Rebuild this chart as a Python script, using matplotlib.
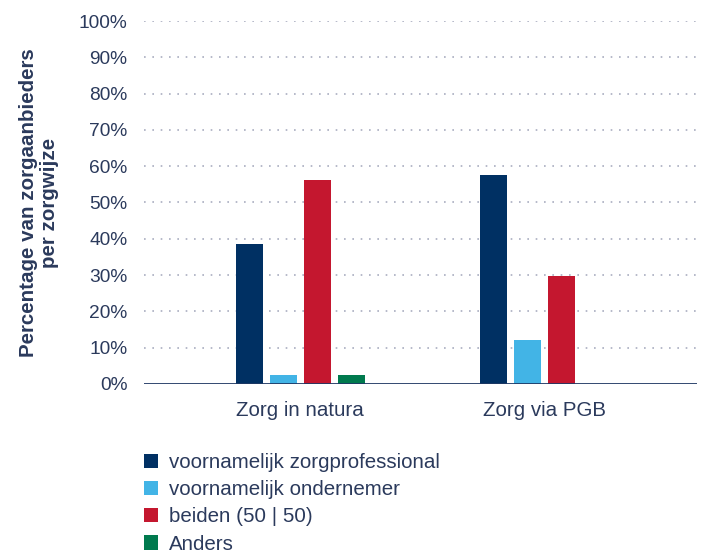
import matplotlib
matplotlib.use("Agg")
import matplotlib.pyplot as plt
import numpy as np

plt.rcParams['font.family'] = ['Liberation Sans', 'DejaVu Sans']

categories = ['Zorg in natura', 'Zorg via PGB']
series = ['voornamelijk zorgprofessional', 'voornamelijk ondernemer',
          'beiden (50 | 50)', 'Anders']
values = [
    [38.6, 57.6],   # voornamelijk zorgprofessional
    [2.6, 12.2],    # voornamelijk ondernemer
    [56.2, 29.8],   # beiden
    [2.6, 0.0],     # Anders
]
colors = ['#003063', '#42b4e6', '#c4172f', '#007a4e']
yticks = np.arange(0, 101, 10)
txt = '#2b3a5c'

fig = plt.figure(figsize=(7.07, 5.56), dpi=100)
ax = fig.add_axes([0.2037, 0.3094, 0.7823, 0.6528])

x = np.arange(len(categories))
w = 0.111
step = 0.139
handles = []
for i, (name, vals) in enumerate(zip(series, values)):
    off = (i - 1.5) * step
    b = ax.bar(x + off, vals, w, color=colors[i], label=name, zorder=3)
    handles.append(b)

ax.set_xlim(-0.64, 1.625)
ax.set_ylim(0, 100)
ax.set_yticks(yticks)
ax.set_yticklabels([f'{v}%' for v in yticks], color=txt, fontsize=13.8)
ax.set_xticks(x)
ax.set_xticklabels(categories, color=txt, fontsize=14.8)
ax.tick_params(axis='y', length=0, pad=12)
ax.tick_params(axis='x', length=0, pad=12)

for v in yticks[1:]:
    ax.axhline(v, color='#a9adc0', lw=1.2, ls=(0, (1, 4)), zorder=1)
ax.axhline(0, color='#1f3864', lw=2, zorder=4)

for s in ['top', 'right', 'left', 'bottom']:
    ax.spines[s].set_visible(False)

ax.set_ylabel('Percentage van zorgaanbieders\nper zorgwijze', fontsize=14.8,
              fontweight='bold', color=txt, labelpad=14, linespacing=1.15)

leg = fig.legend(handles=handles, labels=series, loc='upper left',
                 bbox_to_anchor=(0.192, 0.2), frameon=False,
                 fontsize=14.8, handlelength=0.68, handleheight=0.68,
                 handletextpad=0.55, labelspacing=0.4, borderaxespad=0)
for t in leg.get_texts():
    t.set_color(txt)

fig.savefig('out.png', dpi=100)
